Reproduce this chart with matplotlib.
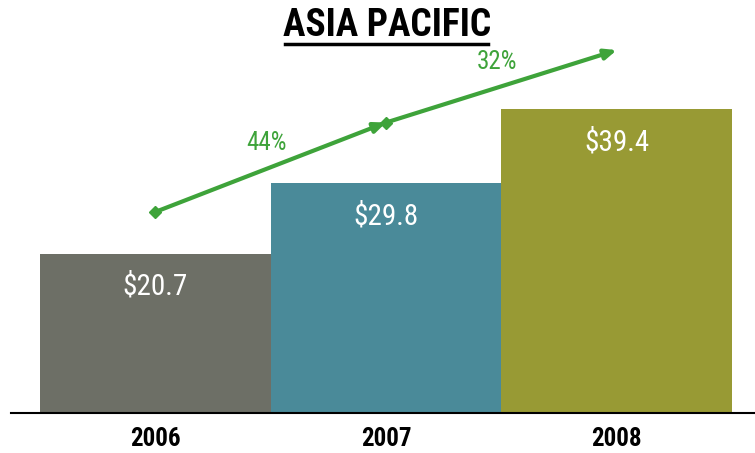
import matplotlib
matplotlib.use("Agg")
import matplotlib.pyplot as plt

years = ["2006", "2007", "2008"]
revenue = [20.7, 29.8, 39.4]
value_labels = ["$20.7", "$29.8", "$39.4"]
growth_labels = ["44%", "32%"]
colors = ["#6d6f66", "#4a8a99", "#989a34"]
green = "#3ea33a"

fam = ["Roboto Condensed", "DejaVu Sans"]

fig = plt.figure(figsize=(7.55, 4.53), dpi=100)
ax = fig.add_axes([11/755, 40/453, 744/755, 413/453])
x = list(range(len(years)))
ax.bar(x, revenue, width=1.0, color=colors, align="center")
ax.set_xlim(-0.626, 2.599)
ax.set_ylim(0, 53.6)

for xi, v, lab in zip(x, revenue, value_labels):
    ax.text(xi, v - 4.3, lab, ha="center", va="center", color="white",
            fontsize=21, family=fam)

# growth arrows (levels above bars)
arrow_offsets = [5.4, 7.9, 7.7]
levels = [v + o for v, o in zip(revenue, arrow_offsets)]
for i in range(len(growth_labels)):
    x0, x1 = x[i], x[i + 1]
    y0, y1 = levels[i], levels[i + 1]
    ax.annotate("", xy=(x1, y1), xytext=(x0, y0),
                arrowprops=dict(arrowstyle="-|>,head_length=0.7,head_width=0.3",
                                color=green, lw=3, shrinkA=0, shrinkB=0))
    ax.plot([x0], [y0], marker="D", color=green, markersize=6)
    ax.text((x0 + x1) / 2 - 0.02, (y0 + y1) / 2 + 3.1, growth_labels[i],
            ha="center", va="center", color=green, fontsize=18, family=fam)

for s in ["top", "right", "left"]:
    ax.spines[s].set_visible(False)
ax.spines["bottom"].set_linewidth(1.5)
ax.set_yticks([])
ax.set_xticks(x)
ax.set_xticklabels(years, fontsize=18, fontweight=600, family=fam)
ax.tick_params(axis="x", length=0, pad=10)

fig.text(387/755, 1 - 26/453, "ASIA PACIFIC", ha="center", va="center",
         fontsize=27, fontweight=600, family=fam)
fig.add_artist(plt.Line2D([285/755, 488/755], [1 - 44/453, 1 - 44/453],
                          color="black", lw=2.5))

fig.savefig("out.png", dpi=100)
